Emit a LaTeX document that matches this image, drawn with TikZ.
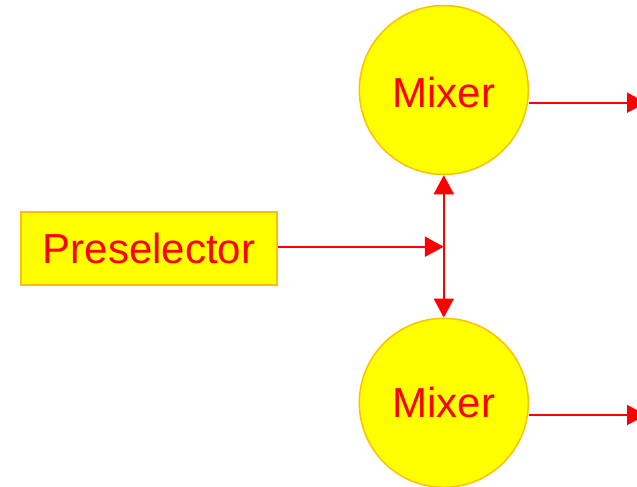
\documentclass[tikz,border=0pt]{standalone}
\usepackage{fontspec}
\setmainfont{Liberation Sans}
\usetikzlibrary{arrows.meta}
\definecolor{boxfill}{RGB}{255,255,0}
\definecolor{boxline}{RGB}{255,192,0}
\definecolor{wire}{RGB}{255,0,0}
\begin{document}
\begin{tikzpicture}[x=1pt,y=-1pt,
  every node/.style={font=\fontsize{42}{42}\selectfont, text=wire},
  block/.style={draw=boxline, fill=boxfill, line width=1.5pt, rectangle,
    minimum width=256pt, minimum height=73pt, inner sep=0pt},
  mixer/.style={draw=boxline, fill=boxfill, line width=1.5pt, circle,
    minimum size=169pt, inner sep=0pt},
  wireline/.style={draw=wire, line width=2pt},
  tip/.style={-{Triangle[length=19pt,width=20pt]}},
  tips/.style={{Triangle[length=19pt,width=20pt]}-{Triangle[length=19pt,width=20pt]}}]
  \clip (0,0) rectangle (637,487);
  \fill[white] (0,0) rectangle (637,487);

  % blocks
  \node[block] (pre) at (149,248.3) {Preselector};
  \node[mixer, text height=35pt] (mixA) at (443.8,90) {Mixer};
  \node[mixer] (mixB) at (443.8,402.8) {Mixer};

  % junction and outputs
  \coordinate (split) at (443.8,246.7);
  \coordinate (outA) at (646,102.7);
  \coordinate (outB) at (646,415);

  % connectors
  \draw[wireline, tip] (pre.east |- split) -- (split);
  \draw[wireline, tips] (mixA.south) -- (mixB.north);
  \draw[wireline, tip] (mixA.east |- outA) -- (outA);
  \draw[wireline, tip] (mixB.east |- outB) -- (outB);
\end{tikzpicture}
\end{document}
